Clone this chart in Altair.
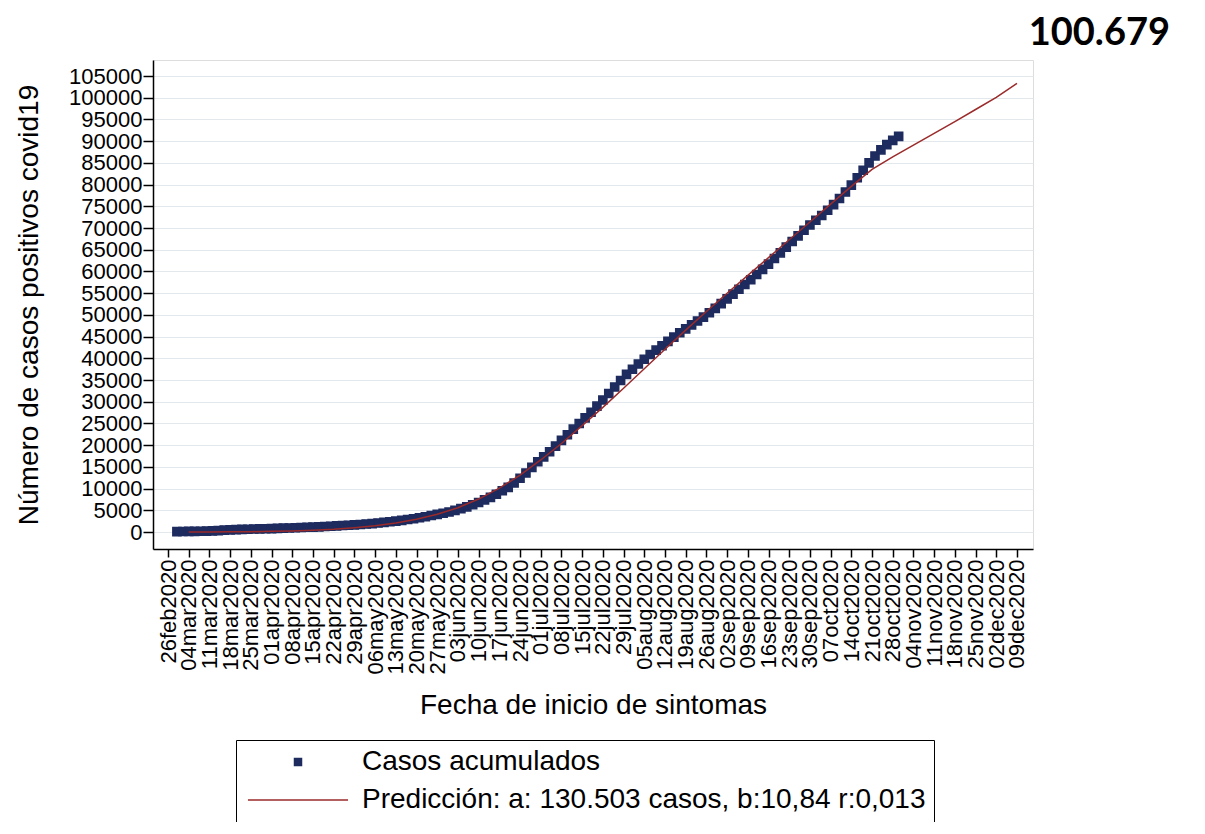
import altair as alt
import pandas as pd

# ---------------- data ----------------
serie_casos = "Casos acumulados"
serie_pred = "Predicción: a: 130.503 casos, b:10,84 r:0,013"

# cumulative cases, one reading every 2 days starting 29 Feb 2020
casos_inicio = "2020-02-29"
casos = [
    100, 120, 150, 170, 200, 230, 260, 320, 450, 500, 560, 610, 660, 700, 740, 770,
    800, 850, 900, 950, 1000, 1050, 1100, 1150, 1200, 1280, 1350, 1420, 1500, 1570, 1650,
    1750, 1850, 1950, 2080, 2220, 2370, 2530, 2700, 2880, 3080, 3300, 3540, 3800, 4060, 4330, 4620,
    5000, 5400, 5800, 6300, 6800, 7400, 8000, 8700, 9500, 10300, 11300, 12400, 13600, 14900, 16200,
    17300, 18500, 19800, 21100, 22400, 23700, 25000, 26300, 27600, 29000, 30400, 31900, 33400, 34900, 36300,
    37500, 38700, 39800, 40900, 41900, 42900, 43900, 44900, 45900, 46800, 47700, 48600, 49500, 50500, 51500, 52600,
    53700, 54800, 55900, 57000, 58100, 59300, 60500, 61700, 63000, 64300, 65600, 66900, 68200, 69500, 70700,
    71800, 72900, 74100, 75400, 76800, 78300, 79900, 81600, 83300, 85000, 86600, 88000, 89200, 90200, 91100,
]

# prediction curve, weekly readings starting 04 Mar 2020
pred_inicio = "2020-03-04"
prediccion = [
    10, 25, 50, 90,
    160, 260, 420, 650, 1000,
    1450, 2100, 2950, 4100,
    5600, 7600, 10100, 13100,
    16600, 20400, 24500, 28700, 33100,
    37600, 42100, 46500, 50800,
    55000, 59100, 63200, 67300, 71400,
    75500, 79600, 83500, 86400,
    89100, 91800, 94500, 97300,
    100100, 103300,
]

tick_fechas = [
    "2020-02-26", "2020-03-04", "2020-03-11", "2020-03-18", "2020-03-25",
    "2020-04-01", "2020-04-08", "2020-04-15", "2020-04-22", "2020-04-29",
    "2020-05-06", "2020-05-13", "2020-05-20", "2020-05-27",
    "2020-06-03", "2020-06-10", "2020-06-17", "2020-06-24",
    "2020-07-01", "2020-07-08", "2020-07-15", "2020-07-22", "2020-07-29",
    "2020-08-05", "2020-08-12", "2020-08-19", "2020-08-26",
    "2020-09-02", "2020-09-09", "2020-09-16", "2020-09-23", "2020-09-30",
    "2020-10-07", "2020-10-14", "2020-10-21", "2020-10-28",
    "2020-11-04", "2020-11-11", "2020-11-18", "2020-11-25",
    "2020-12-02", "2020-12-09",
]
y_ticks = list(range(0, 105001, 5000))
titulo = "100.679"

# ---------------- tables ----------------
df_c = pd.DataFrame({
    "fecha": pd.date_range(casos_inicio, periods=len(casos), freq="2D").strftime("%Y-%m-%d"),
    "casos": casos,
    "serie": serie_casos,
})
df_p = pd.DataFrame({
    "fecha": pd.date_range(pred_inicio, periods=len(prediccion), freq="7D").strftime("%Y-%m-%d"),
    "casos": prediccion,
    "serie": serie_pred,
})


def dt(s, h=0):
    y, m, d = (int(v) for v in s.split("-"))
    return alt.DateTime(year=y, month=m, date=d, hours=h, utc=True)


tick_vals = [dt(s) for s in tick_fechas]

NAVY = "#1e2b5e"
RED = "#9b2a2a"
FONT = "Liberation Sans"
LINE_SYMBOL = "M-14.3,0H14.3"

x_enc = alt.X(
    "fecha:T",
    scale=alt.Scale(type="utc", domain=[dt("2020-02-20", 22), dt("2020-12-14", 10)], nice=False),
    axis=alt.Axis(
        values=tick_vals,
        labelExpr="lower(utcFormat(datum.value, '%d%b%Y'))",
        labelAngle=270,
        labelFont=FONT, labelFontSize=22, labelColor="black", labelPadding=2,
        labelOverlap=False,
        tickSize=8, tickColor="black", tickWidth=1.5,
        domainColor="black", domainWidth=1.5,
        grid=False,
        title="Fecha de inicio de sintomas",
        titleFont=FONT, titleFontSize=28, titleFontWeight="normal", titleColor="black",
        titlePadding=18,
    ),
)
y_enc = alt.Y(
    "casos:Q",
    scale=alt.Scale(domain=[-3900, 108700], nice=False, zero=False),
    axis=alt.Axis(
        values=y_ticks, format="d",
        labelFont=FONT, labelFontSize=22, labelColor="black", labelPadding=1,
        labelOverlap=False,
        tickSize=10, tickColor="black", tickWidth=1.5,
        domainColor="black", domainWidth=1.5,
        grid=True, gridColor="#e3e8ec", gridWidth=1,
        title="Número de casos positivos covid19",
        titleFont=FONT, titleFontSize=28, titleFontWeight="normal", titleColor="black",
        titlePadding=25,
    ),
)

leyenda = alt.Legend(
    title=None, orient="none", legendX=83, legendY=680, direction="vertical",
    strokeColor="black", padding=8,
    labelFont=FONT, labelFontSize=28, labelColor="black", labelLimit=900,
    symbolSize=49, symbolOffset=40, labelOffset=50, rowPadding=10,
    symbolStrokeWidth=1.5, symbolFillColor=NAVY,
)

dominio = [serie_casos, serie_pred]

puntos = alt.Chart(df_c).mark_point(
    filled=False, fill=NAVY, size=66, opacity=1, strokeWidth=1.5
).encode(
    x=x_enc, y=y_enc,
    color=alt.Color("serie:N", scale=alt.Scale(domain=dominio, range=[NAVY, RED]), legend=leyenda),
    shape=alt.Shape("serie:N", scale=alt.Scale(domain=dominio, range=["square", LINE_SYMBOL]), legend=leyenda),
)

linea = alt.Chart(df_p).mark_line(color=RED, strokeWidth=1.5).encode(x=x_enc, y=y_enc)

chart = alt.layer(puntos, linea).properties(
    width=880, height=489,
    title=alt.TitleParams(
        titulo, anchor="end", frame="group", dx=137, dy=40, offset=17, baseline="alphabetic",
        font="Lato", fontSize=38, fontWeight="bold", color="black",
    ),
    autosize=alt.AutoSizeParams(type="none"),
    padding={"left": 145, "top": 52, "right": 160, "bottom": 273},
).configure_view(stroke=None).configure(background="white")

chart.save("out.html", embed_options={"renderer": "svg", "actions": False})
